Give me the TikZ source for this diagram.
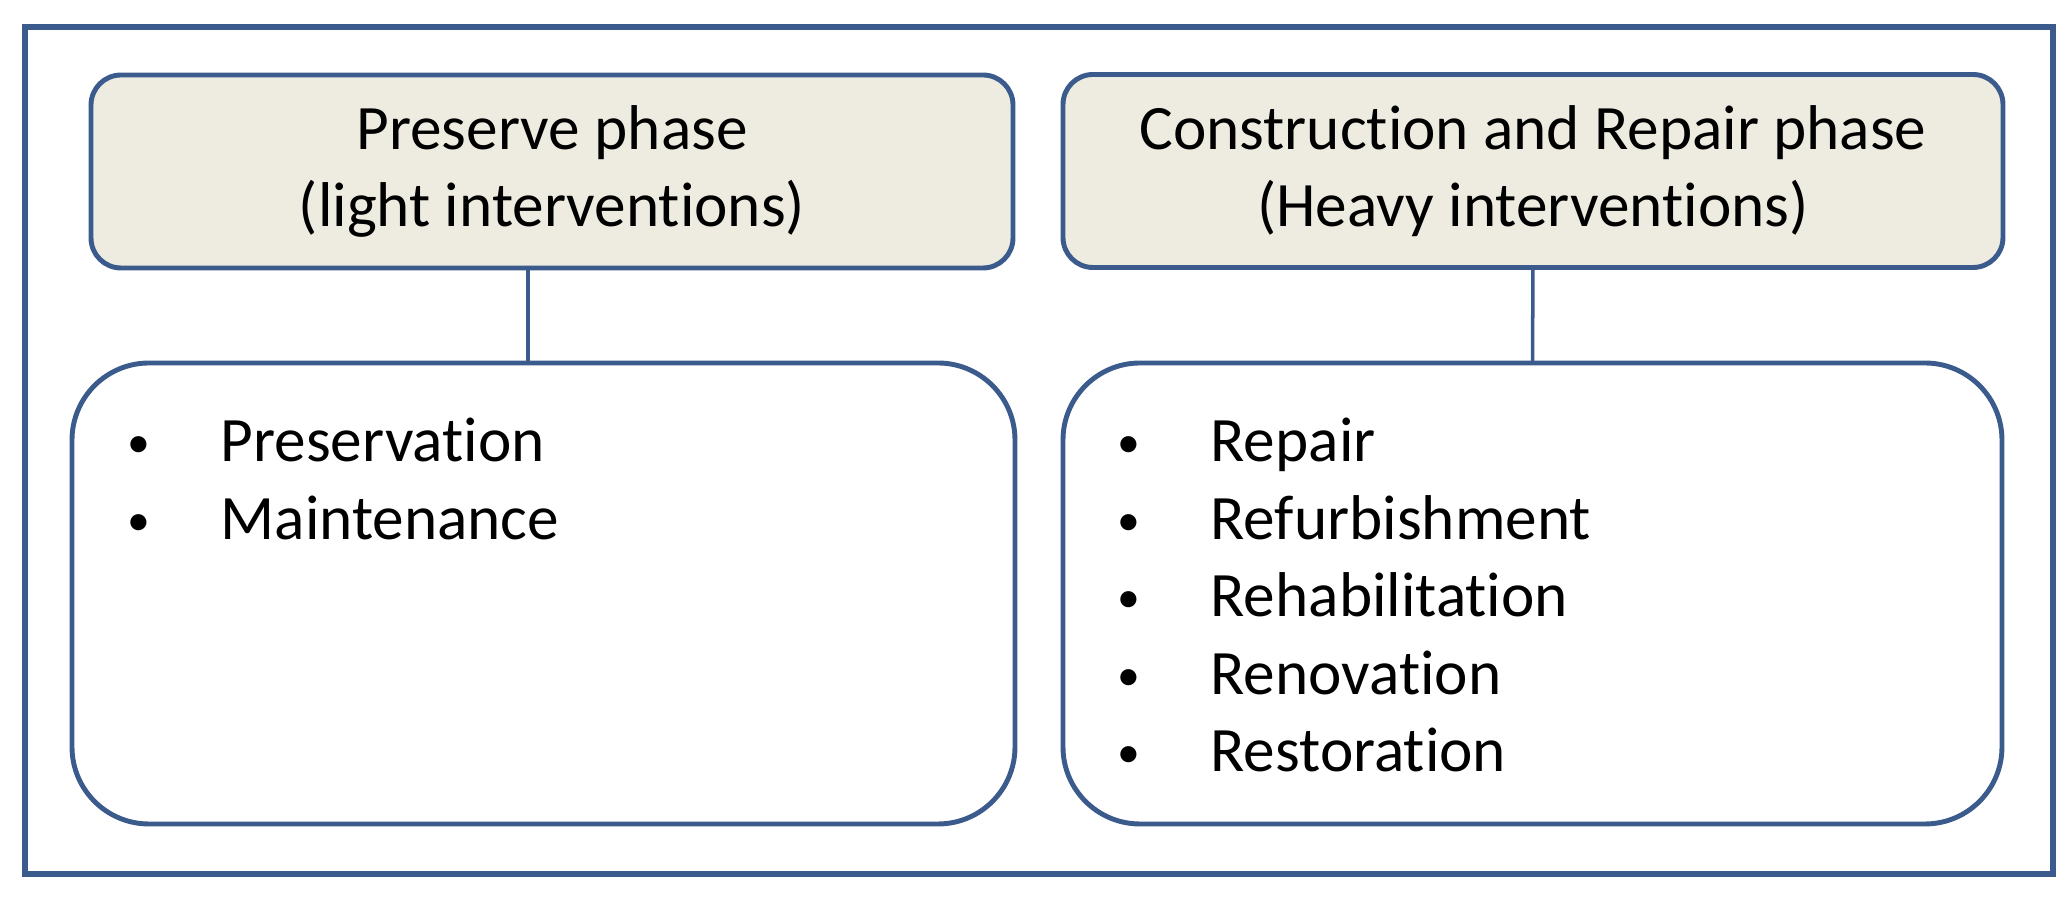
\documentclass[tikz,border=0pt]{standalone}
\usepackage{fontspec}
\setmainfont{Carlito}[Ligatures=NoCommon]
\usepackage{tikz}
\usetikzlibrary{positioning}
\definecolor{edgeblue}{HTML}{3B5B8C}
\definecolor{phasefill}{HTML}{EEECE1}
\newcommand{\dotitem}{\makebox[0.93cm][l]{\raisebox{1.2pt}{\fontsize{13}{13}\selectfont •}}}

\tikzset{
  frame/.style={draw=edgeblue, line width=1.8pt},
  phasebox/.style={draw=edgeblue, line width=1.4pt, fill=phasefill, rounded corners=0.3cm,
    inner sep=0pt, outer sep=0pt, align=center, minimum height=1.93cm},
  listbox/.style={draw=edgeblue, line width=1.4pt, fill=white, rounded corners=0.77cm,
    inner sep=0pt, outer sep=0pt, minimum height=4.61cm},
  link/.style={draw=edgeblue, line width=1pt},
  entry/.style={inner sep=0pt, anchor=base west}
}

\begin{document}
\begin{tikzpicture}[font=\fontsize{18}{22}\selectfont]
      \useasboundingbox (0,0) rectangle (20.71,8.98);

      % Draw the outer frame
      \draw[frame] (0.25,0.24) rectangle (20.53,8.71);

      % The two phase headers
      \node[phasebox, minimum width=9.22cm] (phaseL) at (5.52,7.265) {Preserve phase\\(light interventions)};
      \node[phasebox, minimum width=9.40cm] (phaseR) at (15.33,7.27) {Construction and Repair phase\\(Heavy interventions)};

      % The two boxes with the interventions
      \node[listbox, minimum width=9.43cm] (listL) at (5.435,3.045) {};
      \node[listbox, minimum width=9.39cm] (listR) at (15.325,3.045) {};

      % Connect headers and boxes
      \coordinate (jointL) at (5.28,0);
      \draw[link] (jointL |- phaseL.south) -- (jointL |- listL.north);
      \draw[link] (phaseR.south) -- (listR.north);

      % Light interventions
      \node[entry] (pres) at (1.27,4.36) {\dotitem Preservation};
      \node[entry] (main) at (1.27,3.585) {\dotitem Maintenance};

      % Heavy interventions
      \node[entry] (rep) at (11.17,4.36) {\dotitem Repair};
      \node[entry] (refu) at (11.17,3.585) {\dotitem Refurbishment};
      \node[entry] (reha) at (11.17,2.81) {\dotitem Rehabilitation};
      \node[entry] (reno) at (11.17,2.035) {\dotitem Renovation};
      \node[entry] (rest) at (11.17,1.26) {\dotitem Restoration};
\end{tikzpicture}
\end{document}
